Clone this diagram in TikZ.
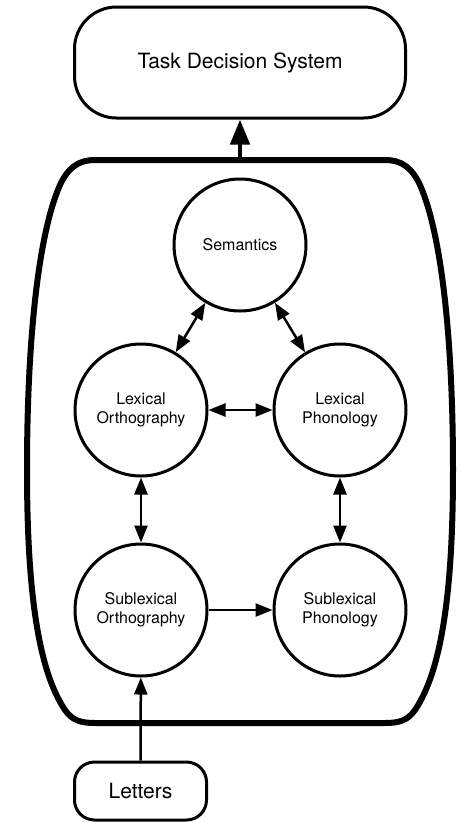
\documentclass[tikz,border=0pt]{standalone}
\usepackage{fontspec}
\setmainfont{TeX Gyre Heros}
\usetikzlibrary{arrows.meta}

\tikzset{
	module/.style={draw, circle, line width=3pt, minimum size=132pt,
		inner sep=0pt, align=center, font=\fontsize{16}{19}\selectfont},
	endbox/.style={draw, line width=3pt, inner sep=0pt,
		font=\fontsize{21}{25}\selectfont},
	link/.style={line width=2.5pt,
		{Triangle[length=17pt,width=13pt]}-{Triangle[length=17pt,width=13pt]}},
	feed/.style={line width=2.5pt, -{Triangle[length=17pt,width=13pt]}}
}

\begin{document}
\begin{tikzpicture}[x=1pt, y=-1pt]
		
		\useasboundingbox (0,0) rectangle (462,823);
		
		% Lexicon
		\draw [line width=6pt, line join=round]
		(95,160) -- (385,160)
		.. controls (402,160) and (412,168) .. (420,185)
		.. controls (440,230) and (453,330) .. (453,470)
		.. controls (453,590) and (442,670) .. (415,710)
		.. controls (408,720) and (400,723) .. (385,723)
		-- (95,723)
		.. controls (80,723) and (72,720) .. (65,710)
		.. controls (38,670) and (27,590) .. (27,470)
		.. controls (27,330) and (40,230) .. (60,185)
		.. controls (68,168) and (78,160) .. (95,160) -- cycle;
		
		\coordinate (lex) at (240,160);
		
		% Decision and input
		\node [endbox,
		rounded corners=42pt,
		minimum width=331pt,
		minimum height=111pt] (task) at (240,62.5) {Task Decision System};
		
		\node [endbox,
		rounded corners=20pt,
		minimum width=132pt,
		minimum height=58pt] (letters) at (140.5,791) {Letters};
		
		% Modules
		\node [module] (sem) at (240,245) {Semantics};
		
		\node [module] (lo) at (141,410) {Lexical\\Orthography};
		
		\node [module] (lp) at (340,410) {Lexical\\Phonology};
		
		\node [module] (so) at (141,610) {Sublexical\\Orthography};
		
		\node [module] (sp) at (340,610) {Sublexical\\Phonology};
		
		% Connections
		\draw [line width=4.5pt, -{Triangle[length=25pt,width=19pt]}] (lex) -- (task);
		
		\draw [link] (sem) -- (lo);
		\draw [link] (sem) -- (lp);
		\draw [link] (lo) -- (lp);
		\draw [link] (lo) -- (so);
		\draw [link] (lp) -- (sp);
		
		\draw [feed] (so) -- (sp);
		\draw [feed] (letters) -- (so);
		
	\end{tikzpicture}
\end{document}
